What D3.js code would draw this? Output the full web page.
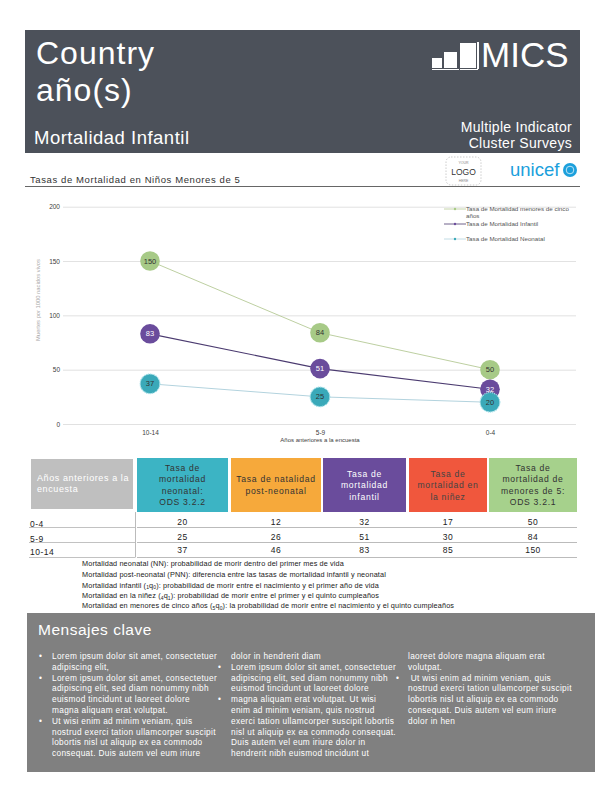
<!DOCTYPE html>
<html><head><meta charset="utf-8">
<script src="https://cdn.jsdelivr.net/npm/d3@7"></script>
<style>
html,body{margin:0;padding:0;background:#fff;}
svg{display:block;}
text{font-family:"Liberation Sans",Arial,sans-serif;}
</style></head>
<body>
<svg id="c" width="612" height="792"></svg>
<script>
// ---------- data ----------
const periods = ["10-14", "5-9", "0-4"];
const under5 = [150, 84, 50];
const infant = [83, 51, 32];
const neonatal = [37, 25, 20];
const yTicks = [0, 50, 100, 150, 200];
const seriesNames = ["Tasa de Mortalidad menores de cinco años", "Tasa de Mortalidad Infantil", "Tasa de Mortalidad Neonatal"];

const tableRows = ["0-4", "5-9", "10-14"];
const tNeonatal = [20, 25, 37];
const tPostNeonatal = [12, 26, 46];
const tInfant = [32, 51, 83];
const tChild = [17, 30, 85];
const tUnder5 = [50, 84, 150];
const tableHeaders = [
  ["Tasa de", "mortalidad", "neonatal:", "ODS 3.2.2"],
  ["Tasa de natalidad", "post-neonatal"],
  ["Tasa de", "mortalidad", "infantil"],
  ["Tasa de", "mortalidad en", "la niñez"],
  ["Tasa de", "mortalidad de", "menores de 5:", "ODS 3.2.1"]
];

const svg = d3.select("#c");

// ---------- header ----------
svg.append("rect").attr("x",25).attr("y",30).attr("width",555).attr("height",123).attr("fill","#4c515a");
svg.append("text").attr("x",36).attr("y",64).attr("fill","#fff").attr("font-size",32).attr("letter-spacing",1).text("Country");
svg.append("text").attr("x",36).attr("y",101).attr("fill","#fff").attr("font-size",32).attr("letter-spacing",1).text("año(s)");
svg.append("text").attr("x",34).attr("y",144).attr("fill","#fff").attr("font-size",18.5).attr("letter-spacing",0.5).text("Mortalidad Infantil");
svg.append("text").attr("x",572).attr("y",132).attr("fill","#fff").attr("font-size",14).attr("letter-spacing",0.3).attr("text-anchor","end").text("Multiple Indicator");
svg.append("text").attr("x",572).attr("y",148).attr("fill","#fff").attr("font-size",14).attr("letter-spacing",0.3).attr("text-anchor","end").text("Cluster Surveys");
// MICS logo
const lg = svg.append("g");
[[432,58,10,10],[444,52,13,16],[460,43,16,25]].forEach(b=>{
  lg.append("rect").attr("x",b[0]).attr("y",b[1]).attr("width",b[2]).attr("height",b[3]).attr("fill","#fff");
  lg.append("rect").attr("x",b[0]).attr("y",b[1]+b[3]+1).attr("width",b[2]+2).attr("height",1).attr("fill","#fff");
});
lg.append("rect").attr("x",477).attr("y",42).attr("width",2).attr("height",27).attr("fill","#fff");
svg.append("text").attr("x",481).attr("y",67).attr("fill","#fff").attr("font-size",35)
  .attr("font-family","Liberation Serif, serif").text("MICS");

// subtitle
svg.append("text").attr("x",30).attr("y",183).attr("fill","#333").attr("font-size",9.5)
  .attr("letter-spacing",0.6).text("Tasas de Mortalidad en Niños Menores de 5");
svg.append("line").attr("x1",25).attr("x2",580).attr("y1",186.5).attr("y2",186.5).attr("stroke","#666").attr("stroke-width",1);
// logo placeholder
svg.append("rect").attr("x",446).attr("y",157).attr("width",35).attr("height",28).attr("rx",5)
  .attr("fill","none").attr("stroke","#aaa").attr("stroke-width",0.6).attr("stroke-dasharray","1.5,1.5");
svg.append("text").attr("x",463.5).attr("y",164).attr("font-size",3.5).attr("fill","#888").attr("text-anchor","middle").text("YOUR");
svg.append("text").attr("x",463.5).attr("y",175).attr("font-size",8.5).attr("fill","#333").attr("text-anchor","middle").text("LOGO");
svg.append("text").attr("x",463.5).attr("y",182).attr("font-size",3.5).attr("fill","#888").attr("text-anchor","middle").text("HERE");
svg.append("text").attr("x",510).attr("y",176).attr("font-size",18.5).attr("fill","#1ca0dc").text("unicef");
svg.append("circle").attr("cx",570).attr("cy",170).attr("r",7).attr("fill","#1ca0dc");
svg.append("circle").attr("cx",570).attr("cy",170).attr("r",3.8).attr("fill","none").attr("stroke","#bfe4f6").attr("stroke-width",1);

// ---------- chart ----------
const x = d3.scalePoint().domain(periods).range([150,490]);
const y = d3.scaleLinear().domain([0,200]).range([424,206.7]);

const grid = svg.append("g").attr("transform","translate(63,0)")
  .call(d3.axisLeft(y).tickValues(yTicks).tickSize(-513).tickFormat(d3.format("d")));
grid.select(".domain").remove();
grid.selectAll(".tick line").attr("stroke","#d9d9d9").attr("stroke-width",0.8);
grid.selectAll(".tick text").attr("x",-3).attr("fill","#404040").attr("font-size",6.5).attr("font-family","Liberation Sans, Arial");

const xa = svg.append("g").attr("transform","translate(0,424)")
  .call(d3.axisBottom(x).tickSize(0).tickPadding(6));
xa.select(".domain").remove();
xa.selectAll(".tick text").attr("fill","#404040").attr("font-size",6.5).attr("font-family","Liberation Sans, Arial");

svg.append("text").attr("x",320).attr("y",442).attr("text-anchor","middle").attr("font-size",6).attr("fill","#404040")
  .text("Años anteriores a la encuesta");
svg.append("text").attr("transform","translate(40,300) rotate(-90)").attr("text-anchor","middle")
  .attr("font-size",5.8).attr("fill","#aaa").text("Muertes por 1000 nacidos vivos");

const series = [
  {vals: under5, line:"#b6c996", fill:"#a7ca87", txt:"#333", lw:0.9, stroke:"none"},
  {vals: infant, line:"#4b3b70", fill:"#6a4c9c", txt:"#fff", lw:1.2, stroke:"none"},
  {vals: neonatal, line:"#b3d3de", fill:"#3aa9b9", txt:"#333", lw:1, stroke:"#9fdde6"}
];
const lineGen = d3.line().x((d,i)=>x(periods[i])).y(d=>y(d));
series.forEach(s=>{
  svg.append("path").datum(s.vals).attr("d",lineGen).attr("fill","none").attr("stroke",s.line).attr("stroke-width",s.lw);
});
series.forEach(s=>{
  const g = svg.append("g");
  g.selectAll("circle").data(s.vals).join("circle")
    .attr("cx",(d,i)=>x(periods[i])).attr("cy",d=>y(d)).attr("r",9.8)
    .attr("fill",s.fill).attr("stroke",s.stroke).attr("stroke-width",1.2).attr("stroke-dasharray","1.2,0.8");
  g.selectAll("text").data(s.vals).join("text")
    .attr("x",(d,i)=>x(periods[i])).attr("y",d=>y(d)+2.6).attr("text-anchor","middle")
    .attr("font-size",7.5).attr("fill",s.txt).text(d=>d);
});

// legend
const leg = svg.append("g");
const legY = [209, 224, 239];
series.forEach((s,i)=>{
  leg.append("line").attr("x1",444).attr("x2",466).attr("y1",legY[i]).attr("y2",legY[i]).attr("stroke",s.line).attr("stroke-width",0.8);
  leg.append("circle").attr("cx",455).attr("cy",legY[i]).attr("r",1.2).attr("fill",s.fill);
});
const lfs = 6.2;
leg.append("text").attr("x",466).attr("y",211).attr("font-size",lfs).attr("fill","#555").text("Tasa de Mortalidad menores de cinco");
leg.append("text").attr("x",466).attr("y",218).attr("font-size",lfs).attr("fill","#555").text("años");
leg.append("text").attr("x",466).attr("y",226).attr("font-size",lfs).attr("fill","#555").text(seriesNames[1]);
leg.append("text").attr("x",466).attr("y",241).attr("font-size",lfs).attr("fill","#555").text(seriesNames[2]);

// ---------- table ----------
const cols = [
  {x0:137,x1:228,fill:"#3cb4c4",txt:"#333",vals:tNeonatal},
  {x0:231,x1:321,fill:"#f6a93b",txt:"#333",vals:tPostNeonatal},
  {x0:323,x1:406,fill:"#6a4c9c",txt:"#fff",vals:tInfant},
  {x0:409,x1:487,fill:"#f0573d",txt:"#444",vals:tChild},
  {x0:489,x1:577,fill:"#a6d18c",txt:"#333",vals:tUnder5}
];
svg.append("rect").attr("x",31).attr("y",459).attr("width",102).attr("height",50).attr("fill","#bfbfbf");
svg.append("text").attr("x",37).attr("y",481).attr("font-size",9).attr("fill","#fff").attr("letter-spacing",0.6).text("Años anteriores a la");
svg.append("text").attr("x",37).attr("y",492).attr("font-size",9).attr("fill","#fff").attr("letter-spacing",0.6).text("encuesta");
const rowY = [525, 540, 553];
const lineYs = [527.5, 542.5, 557.5];
cols.forEach((c,ci)=>{
  svg.append("rect").attr("x",c.x0).attr("y",458).attr("width",c.x1-c.x0).attr("height",54).attr("fill",c.fill);
  const lines = tableHeaders[ci];
  const lh = 11.5;
  const cy = 485;
  lines.forEach((t,li)=>{
    svg.append("text").attr("x",(c.x0+c.x1)/2).attr("y",cy - (lines.length-1)*lh/2 + li*lh + 3)
      .attr("text-anchor","middle").attr("font-size",8.6).attr("letter-spacing",0.7).attr("fill",c.txt).text(t);
  });
  svg.selectAll(null).data(c.vals).join("text")
    .attr("x",(c.x0+c.x1)/2).attr("y",(d,i)=>rowY[i]).attr("text-anchor","middle")
    .attr("font-size",8.5).attr("fill","#222").attr("letter-spacing",0.5).text(d=>d);
});
lineYs.forEach(ly=>{
  svg.append("line").attr("x1",137).attr("x2",577).attr("y1",ly).attr("y2",ly).attr("stroke","#aaa").attr("stroke-width",0.8);
  svg.append("line").attr("x1",29).attr("x2",135).attr("y1",ly).attr("y2",ly).attr("stroke","#999").attr("stroke-width",0.6);
});
svg.append("line").attr("x1",135.5).attr("x2",135.5).attr("y1",512).attr("y2",557.5).attr("stroke","#aaa").attr("stroke-width",0.8);
svg.selectAll(null).data(tableRows).join("text")
  .attr("x",30).attr("y",(d,i)=>rowY[i]+1.5).attr("font-size",8.5).attr("fill","#222").attr("letter-spacing",0.5).text(d=>d);

// definitions
const defs = [
  [["Mortalidad neonatal (NN): probabilidad de morir dentro del primer mes de vida"]],
  [["Mortalidad post-neonatal (PNN): diferencia entre las tasas de mortalidad infantil y neonatal"]],
  [["Mortalidad infantil ("],["1","s"],["q"],["0","s"],["): probabilidad de morir entre el nacimiento y el primer año de vida"]],
  [["Mortalidad en la niñez ("],["4","s"],["q"],["1","s"],["): probabilidad de morir entre el primer y el quinto cumpleaños"]],
  [["Mortalidad en menores de cinco años ("],["5","s"],["q"],["0","s"],["): la probabilidad de morir entre el nacimiento y el quinto cumpleaños"]]
];
const defY = [566, 577, 587.5, 598, 608];
defs.forEach((parts,i)=>{
  const t = svg.append("text").attr("x",82).attr("y",defY[i]).attr("font-size",7.3).attr("fill","#1a1a1a").attr("letter-spacing",0.12);
  parts.forEach((p,k)=>{
    const ts = t.append("tspan").text(p[0]);
    const prev = k>0 ? parts[k-1][1] : null;
    if(p[1]==="s" && prev!=="s") ts.attr("font-size",5).attr("dy",1.5);
    else if(p[1]==="s") ts.attr("font-size",5);
    else if(prev==="s") ts.attr("dy",-1.5);
  });
});

// ---------- key messages ----------
svg.append("rect").attr("x",27).attr("y",613).attr("width",568).attr("height",159).attr("fill","#808080");
svg.append("text").attr("x",38).attr("y",635).attr("font-size",15.5).attr("fill","#fff").attr("letter-spacing",0.5).text("Mensajes clave");
const lineYb = [656.5, 667.3, 678.1, 688.9, 699.7, 710.5, 721.3, 732.1, 742.9, 753.7];
const col1 = [
  "Lorem ipsum dolor sit amet, consectetuer",
  "adipiscing elit,",
  "Lorem ipsum dolor sit amet, consectetuer",
  "adipiscing elit, sed diam nonummy nibh",
  "euismod tincidunt ut laoreet dolore",
  "magna aliquam erat volutpat.",
  "Ut wisi enim ad minim veniam, quis",
  "nostrud exerci tation ullamcorper suscipit",
  "lobortis nisl ut aliquip ex ea commodo",
  "consequat. Duis autem vel eum iriure"
];
const col1Bullets = [0, 2, 6];
const col2 = [
  "dolor in hendrerit diam",
  "Lorem ipsum dolor sit amet, consectetuer",
  "adipiscing elit, sed diam nonummy nibh",
  "euismod tincidunt ut laoreet dolore",
  "magna aliquam erat volutpat. Ut wisi",
  "enim ad minim veniam, quis nostrud",
  "exerci tation ullamcorper suscipit lobortis",
  "nisl ut aliquip ex ea commodo consequat.",
  "Duis autem vel eum iriure dolor in",
  "hendrerit nibh euismod tincidunt ut"
];
const col2Bullets = [1, 4];
const col3 = [
  "laoreet dolore magna aliquam erat",
  "volutpat.",
  " Ut wisi enim ad minim veniam, quis",
  "nostrud exerci tation ullamcorper suscipit",
  "lobortis nisl ut aliquip ex ea commodo",
  "consequat. Duis autem vel eum iriure",
  "dolor in hen"
];
const col3Bullets = [2];
function drawCol(lines, bullets, tx, bx){
  svg.selectAll(null).data(lines).join("text")
    .attr("x",tx).attr("y",(d,i)=>lineYb[i]+2.5).attr("font-size",8.3).attr("fill","#fff")
    .attr("letter-spacing",0.32).attr("xml:space","preserve").text(d=>d);
  svg.selectAll(null).data(bullets).join("text")
    .attr("x",bx).attr("y",d=>lineYb[d]+2.5).attr("font-size",8.3).attr("fill","#fff").text("•");
}
drawCol(col1, col1Bullets, 52, 39);
drawCol(col2, col2Bullets, 231, 218);
drawCol(col3, col3Bullets, 408, 396);
</script>
</body></html>
